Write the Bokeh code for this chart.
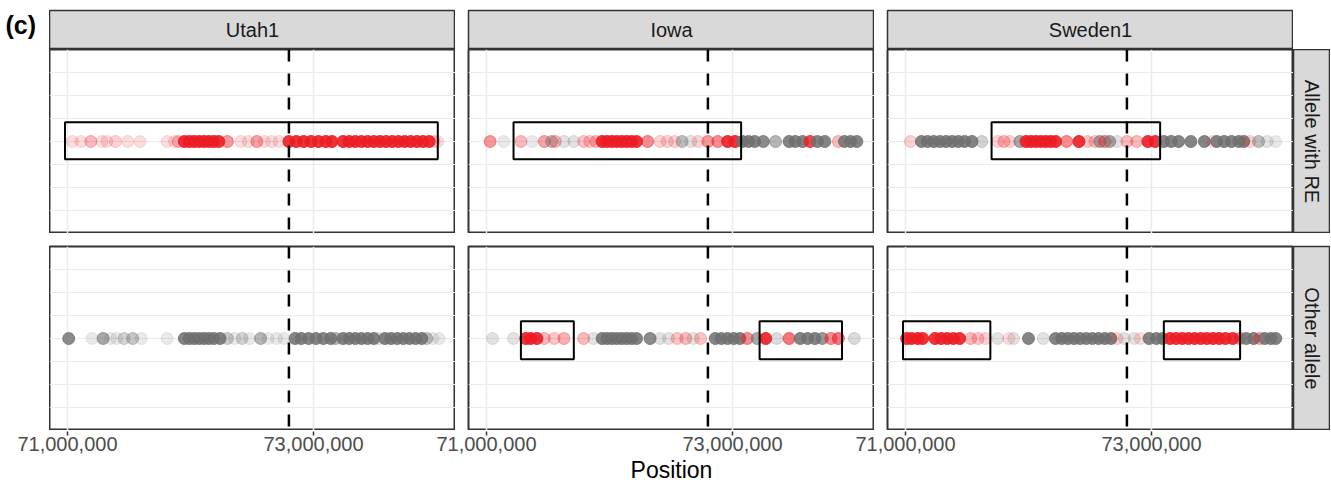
import math
from bokeh.plotting import figure
from bokeh.layouts import row, column
from bokeh.models import (Range1d, FixedTicker, ColumnDataSource, Span, Grid,
                          LinearAxis, Spacer)
from bokeh.core.properties import value
from bokeh.embed import file_html
from bokeh.resources import INLINE

# ---------------- data ----------------
populations = ["Utah1", "Iowa", "Sweden1"]
allele_rows = ["Allele with RE", "Other allele"]
panel_label = "(c)"
x_axis_title = "Position"
x_tick_values = [71_000_000, 73_000_000]
x_limits = [70_854_000, 74_154_000]
y_limits = [-4, 4]
y_grid_values = [-3, -2, -1, 0, 1, 2, 3]
y_level = 0
focal_position = 72_800_000
box_y_re = [-0.77, 0.84]
box_y_other = [-0.9, 0.75]

# positions in Mb, point alpha, allele call (R = shares RE haplotype, G = other)
utah_re_pos = [71.04, 71.11, 71.19, 71.28, 71.32, 71.39, 71.49, 71.59, 71.81, 71.87, 71.90,
               71.95, 71.99, 72.03, 72.07, 72.11, 72.15, 72.19, 72.23,
               72.30, 72.41, 72.47, 72.54, 72.60, 72.66, 72.72,
               72.80, 72.86, 72.92, 72.98, 73.04, 73.10, 73.15,
               73.24, 73.29, 73.34, 73.39, 73.44, 73.49, 73.54, 73.59, 73.64, 73.69, 73.74,
               73.79, 73.84, 73.89, 73.94,
               73.98, 74.01]
utah_re_alpha = [0.15, 0.15, 0.3, 0.15, 0.15, 0.2, 0.15, 0.15, 0.15, 0.15, 0.3,
                 0.9, 0.9, 0.9, 0.9, 0.9, 0.9, 0.9, 0.9,
                 0.45, 0.15, 0.15, 0.4, 0.15, 0.15, 0.15,
                 0.9, 0.9, 0.9, 0.9, 0.9, 0.9, 0.9,
                 0.9, 0.9, 0.9, 0.9, 0.9, 0.9, 0.9, 0.9, 0.9, 0.9, 0.9,
                 0.9, 0.9, 0.9, 0.9,
                 0.2, 0.15]
utah_re_call = "RRRRRRRRRRR" "RRRRRRRR" "RRRRRRR" "RRRRRRR" "RRRRRRRRRRRRRRR" "RR"
utah_re_boxes = [(70.98, 74.01)]

utah_ot_pos = [71.01, 71.20, 71.29, 71.35, 71.40, 71.46, 71.53, 71.60, 71.81,
               71.95, 71.99, 72.03, 72.07, 72.11, 72.15, 72.19, 72.24,
               72.30, 72.36, 72.42, 72.48, 72.57, 72.63, 72.70, 72.76,
               72.85, 72.90, 72.96, 73.02, 73.08, 73.14, 73.18,
               73.24, 73.29, 73.34, 73.39, 73.44, 73.49, 73.53,
               73.58, 73.63, 73.68, 73.73, 73.78, 73.83, 73.88, 73.92, 73.97, 74.02]
utah_ot_alpha = [0.8, 0.15, 0.6, 0.15, 0.15, 0.3, 0.4, 0.15, 0.15,
                 0.85, 0.85, 0.85, 0.85, 0.85, 0.85, 0.85, 0.85,
                 0.35, 0.15, 0.3, 0.15, 0.5, 0.15, 0.15, 0.15,
                 0.85, 0.85, 0.85, 0.85, 0.85, 0.85, 0.5,
                 0.85, 0.85, 0.85, 0.85, 0.85, 0.85, 0.2,
                 0.85, 0.85, 0.85, 0.85, 0.85, 0.85, 0.85, 0.4, 0.15, 0.15]
utah_ot_call = "GGGGGGGGG" "GGGGGGGG" "GGGGGGGG" "GGGGGGG" "GGGGGGG" "GGGGGGGGGG"
utah_ot_boxes = []

iowa_re_pos = [71.03, 71.14, 71.28, 71.37, 71.47, 71.53, 71.56, 71.63, 71.71, 71.79, 71.84, 71.89,
               71.94, 71.98, 72.02, 72.06, 72.10, 72.14, 72.18, 72.22,
               72.31, 72.41, 72.47, 72.53, 72.59, 72.66, 72.72, 72.80, 72.88,
               72.96, 73.02, 73.08, 73.13, 73.18, 73.25, 73.35, 73.46, 73.51, 73.57, 73.63,
               73.69, 73.75, 73.86, 73.91, 73.96, 74.01]
iowa_re_alpha = [0.45, 0.15, 0.3, 0.15, 0.4, 0.45, 0.3, 0.2, 0.2, 0.25, 0.25, 0.3,
                 0.9, 0.9, 0.9, 0.9, 0.9, 0.9, 0.9, 0.9,
                 0.5, 0.2, 0.2, 0.2, 0.45, 0.2, 0.2, 0.45, 0.5,
                 0.9, 0.9, 0.85, 0.85, 0.85, 0.8, 0.5, 0.85, 0.85, 0.85, 0.8,
                 0.85, 0.85, 0.3, 0.85, 0.85, 0.85]
iowa_re_call = "RGRGRGRGGRRR" "RRRRRRRR" "RRRRGGRRR" "RRGGGGGGGGRGGRGGG"
iowa_re_boxes = [(71.22, 73.07)]

iowa_ot_pos = [71.05, 71.22, 71.32, 71.36, 71.41, 71.47, 71.55, 71.63, 71.79, 71.87,
               71.94, 71.98, 72.02, 72.06, 72.10, 72.14, 72.18, 72.22,
               72.33, 72.41, 72.48, 72.55, 72.62, 72.68, 72.74,
               72.86, 72.91, 72.96, 73.01, 73.06,
               73.12, 73.20, 73.27, 73.36, 73.46, 73.55, 73.61, 73.67, 73.73, 73.80, 73.86, 73.99]
iowa_ot_alpha = [0.2, 0.2, 0.9, 0.9, 0.9, 0.3, 0.25, 0.35, 0.3, 0.2,
                 0.85, 0.85, 0.85, 0.85, 0.85, 0.85, 0.85, 0.85,
                 0.8, 0.2, 0.2, 0.25, 0.3, 0.2, 0.25,
                 0.85, 0.85, 0.85, 0.85, 0.85,
                 0.5, 0.6, 0.9, 0.25, 0.6, 0.85, 0.85, 0.85, 0.7, 0.5, 0.6, 0.25]
iowa_ot_call = "GGRRRRRRRG" "GGGGGGGG" "GGGRRGR" "GGGGG" "RGRGRGGGGRRG"
iowa_ot_boxes = [(71.28, 71.71), (73.22, 73.89)]

sweden_re_pos = [71.04, 71.13, 71.18, 71.23, 71.28, 71.33, 71.38, 71.43, 71.48, 71.54,
                 71.62, 71.75, 71.80, 71.85, 71.93,
                 71.98, 72.02, 72.06, 72.10, 72.14, 72.18, 72.22,
                 72.31, 72.41, 72.48, 72.54, 72.58, 72.62, 72.66, 72.72, 72.80, 72.88,
                 72.97, 73.03, 73.10, 73.16, 73.22, 73.32, 73.43, 73.50, 73.53, 73.59, 73.65,
                 73.71, 73.75, 73.80, 73.87, 73.94, 74.01]
sweden_re_alpha = [0.2, 0.85, 0.85, 0.85, 0.85, 0.85, 0.85, 0.85, 0.85, 0.85,
                   0.3, 0.2, 0.3, 0.2, 0.6,
                   0.9, 0.9, 0.9, 0.9, 0.9, 0.9, 0.9,
                   0.5, 0.9, 0.25, 0.25, 0.6, 0.5, 0.6, 0.2, 0.3, 0.3,
                   0.9, 0.9, 0.85, 0.85, 0.85, 0.85, 0.85, 0.15, 0.85, 0.85, 0.85,
                   0.85, 0.85, 0.2, 0.45, 0.2, 0.15]
sweden_re_call = "RGGGGGGGGG" "GRRRG" "RRRRRRR" "RRRRGRGGRR" "RRGGGGGRGGGGGRGGG"
sweden_re_boxes = [(71.70, 73.07)]

sweden_ot_pos = [71.01, 71.05, 71.10, 71.14, 71.24, 71.29, 71.34, 71.39, 71.44,
                 71.53, 71.59, 71.65, 71.75, 71.84, 71.88, 72.00, 72.12,
                 72.22, 72.27, 72.32, 72.37, 72.42, 72.47, 72.52, 72.57, 72.62, 72.67,
                 72.72, 72.78, 72.86, 72.91, 72.98, 73.04, 73.09,
                 73.15, 73.20, 73.25, 73.30, 73.35, 73.40, 73.45, 73.50, 73.55, 73.60, 73.66,
                 73.72, 73.77, 73.83, 73.88, 73.92, 73.97, 74.01]
sweden_ot_alpha = [0.9, 0.9, 0.9, 0.9, 0.9, 0.9, 0.9, 0.9, 0.9,
                   0.3, 0.25, 0.2, 0.2, 0.15, 0.2, 0.85, 0.2,
                   0.85, 0.85, 0.85, 0.85, 0.85, 0.85, 0.85, 0.85, 0.85, 0.85,
                   0.2, 0.2, 0.2, 0.15, 0.85, 0.85, 0.85,
                   0.9, 0.9, 0.9, 0.9, 0.9, 0.9, 0.9, 0.9, 0.9, 0.9, 0.9,
                   0.5, 0.85, 0.85, 0.4, 0.85, 0.85, 0.85]
sweden_ot_call = "RRRRRRRRR" "RRRGRGGG" "GGGGGGGGGG" "RGGRGGG" "RRRRRRRRRRR" "RGGRGGG"
sweden_ot_boxes = [(70.98, 71.69), (73.10, 73.72)]

panels = [
    [(utah_re_pos, utah_re_alpha, utah_re_call, utah_re_boxes),
     (iowa_re_pos, iowa_re_alpha, iowa_re_call, iowa_re_boxes),
     (sweden_re_pos, sweden_re_alpha, sweden_re_call, sweden_re_boxes)],
    [(utah_ot_pos, utah_ot_alpha, utah_ot_call, utah_ot_boxes),
     (iowa_ot_pos, iowa_ot_alpha, iowa_ot_call, iowa_ot_boxes),
     (sweden_ot_pos, sweden_ot_alpha, sweden_ot_call, sweden_ot_boxes)],
]
box_y = [box_y_re, box_y_other]

# ---------------- style ----------------
FONT = "Liberation Sans"
RED = "#EC1C24"
GREY = "#6E6E6E"
STRIP_FILL = "#D9D9D9"
BORDER = "#333333"
GRID_COLOR = "#EBEBEB"
FW, FH, SH, GAP, RW, LW, TOP = 406, 184, 39, 13, 37, 49, 10


def bare(fw, fh, left=0, top=0, right=0, bottom=0, xr=(0, 1), yr=(0, 1)):
    p = figure(frame_width=fw, frame_height=fh, x_range=Range1d(*xr), y_range=Range1d(*yr),
               output_backend="svg", toolbar_location=None,
               x_axis_location=None, y_axis_location=None,
               min_border_left=left, min_border_right=right,
               min_border_top=top, min_border_bottom=bottom)
    for g in list(p.grid):
        g.visible = False
    p.outline_line_color = None
    p.border_fill_color = "white"
    p.background_fill_color = "white"
    return p


def top_strip(name, left):
    p = bare(FW, SH, left=left, top=TOP)
    p.background_fill_color = STRIP_FILL
    p.outline_line_color = BORDER
    p.outline_line_width = 1.5
    p.text(x=[0.5], y=[0.5], text=[name], text_align="center", text_baseline="middle",
           text_font=value(FONT), text_font_size="20px", text_color="#1A1A1A")
    return p


def side_strip(name, top):
    p = bare(RW, FH, top=top)
    p.background_fill_color = STRIP_FILL
    p.outline_line_color = BORDER
    p.outline_line_width = 1.5
    p.text(x=[0.5], y=[0.5], text=[name], angle=-math.pi / 2, text_align="center",
           text_baseline="middle", text_font=value(FONT), text_font_size="20px",
           text_color="#1A1A1A")
    return p


def panel(r, c):
    pos, alpha, call, boxes = panels[r][c]
    assert len(pos) == len(alpha) == len(call)
    p = bare(FW, FH, left=(0 if c == 0 else GAP), top=(0 if r == 0 else GAP),
             xr=x_limits, yr=y_limits)
    p.outline_line_color = BORDER
    p.outline_line_width = 2
    p.add_layout(Grid(dimension=0, ticker=FixedTicker(ticks=x_tick_values),
                      grid_line_color=GRID_COLOR, grid_line_width=1.5))
    p.add_layout(Grid(dimension=1, ticker=FixedTicker(ticks=y_grid_values),
                      grid_line_color=GRID_COLOR, grid_line_width=1.2))
    src = ColumnDataSource(dict(
        x=[v * 1e6 for v in pos],
        y=[y_level] * len(pos),
        color=[RED if k == "R" else GREY for k in call],
        alpha=alpha,
    ))
    p.scatter("x", "y", source=src, size=12, fill_color="color", line_color="color",
              fill_alpha="alpha", line_alpha="alpha", line_width=1)
    if boxes:
        p.quad(left=[b[0] * 1e6 for b in boxes], right=[b[1] * 1e6 for b in boxes],
               bottom=[box_y[r][0]] * len(boxes), top=[box_y[r][1]] * len(boxes),
               fill_color=None, line_color="black", line_width=2)
    p.add_layout(Span(location=focal_position, dimension="height", line_color="black",
                      line_width=2.5, line_dash="12 12"))
    return p


# "(c)" label column
lab = bare(LW, SH, top=TOP)
lab.text(x=[0.1], y=[1.0], text=[panel_label], text_align="left", text_baseline="top",
         text_font=value(FONT), text_font_size="25px", text_font_style="bold",
         text_color="black")

cols = []
for c, name in enumerate(populations):
    left = 0 if c == 0 else GAP
    cols.append(column(top_strip(name, left), panel(0, c), panel(1, c)))

right_col = column(Spacer(width=RW, height=SH + TOP), side_strip(allele_rows[0], 0),
                   side_strip(allele_rows[1], GAP))

# shared bottom axis: one scale spanning the three panel columns
span = x_limits[1] - x_limits[0]
total_w = 3 * FW + 2 * GAP
g_start = x_limits[0]
g_end = x_limits[0] + span * total_w / FW
g_ticks, g_labels = [], {}
for c in range(3):
    off = round(c * (FW + GAP) / FW * span)
    for t in x_tick_values:
        g_ticks.append(t + off)
        g_labels[t + off] = f"{t:,}"

axfig = bare(total_w, 1, left=LW, right=RW, xr=(g_start, g_end))
ax = LinearAxis(ticker=FixedTicker(ticks=g_ticks), major_label_overrides=g_labels,
                axis_line_color=None, major_tick_line_color=BORDER, major_tick_line_width=1.5,
                major_tick_out=4, major_tick_in=0, minor_tick_line_color=None,
                major_label_text_font=FONT, major_label_text_font_size="20px",
                major_label_text_color="#4D4D4D", major_label_standoff=1,
                axis_label=x_axis_title, axis_label_text_font=FONT,
                axis_label_text_font_size="23px", axis_label_text_font_style="normal",
                axis_label_text_color="black", axis_label_standoff=3)
axfig.add_layout(ax, "below")

layout = column(row(lab, *cols, right_col), axfig)

open("out.html", "w").write(file_html(layout, INLINE))
